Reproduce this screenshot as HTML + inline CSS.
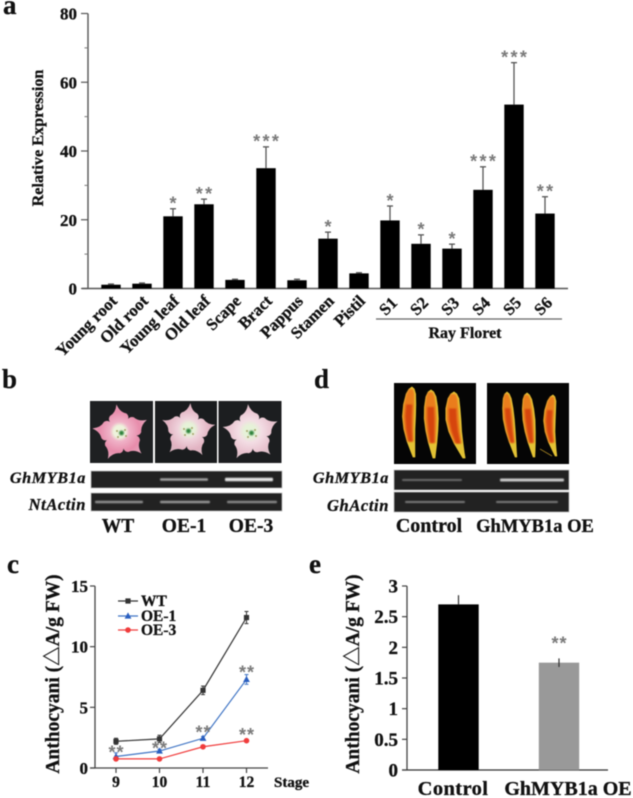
<!DOCTYPE html>
<html lang="en">
<head>
<meta charset="utf-8">
<title>GhMYB1a expression and anthocyanin figure</title>
<style>
html,body{margin:0;padding:0;background:#fff;width:633px;height:798px;overflow:hidden}
svg{display:block;filter:blur(0.55px)}
text{font-family:"Liberation Serif","Noto Serif CJK SC",serif;font-weight:bold;fill:#111;stroke:#111;stroke-width:0.3}
text.star{font-family:"Liberation Sans",sans-serif;fill:#7a7a7a;stroke:none;font-weight:bold}
</style>
</head>
<body>
<svg id="fig" width="633" height="798" viewBox="0 0 633 798" xmlns="http://www.w3.org/2000/svg">
<defs>
<radialGradient id="fPink"><stop offset="0.22" stop-color="#eef3dc"/><stop offset="0.36" stop-color="#f0b3c8"/><stop offset="0.75" stop-color="#e78cab"/><stop offset="1" stop-color="#e4a0b8"/></radialGradient>
<radialGradient id="fPale"><stop offset="0.22" stop-color="#e6f2d8"/><stop offset="0.4" stop-color="#efd3dc"/><stop offset="0.8" stop-color="#e2b3c2"/><stop offset="1" stop-color="#d9b5c0"/></radialGradient>
<radialGradient id="fPaler"><stop offset="0.22" stop-color="#e6f2d8"/><stop offset="0.42" stop-color="#f3dde4"/><stop offset="0.8" stop-color="#e9c4d0"/><stop offset="1" stop-color="#dcc0c8"/></radialGradient>
<filter id="soft" x="-30%" y="-30%" width="160%" height="160%"><feGaussianBlur stdDeviation="0.9"/></filter>
<filter id="softBand" x="-5%" y="-150%" width="110%" height="400%"><feGaussianBlur stdDeviation="0.6"/></filter>
</defs>
<g id="panel-a"></g>
<g id="panel-b"></g>
<g id="panel-d"></g>
<g id="panel-c"></g>
<g id="panel-e"></g>
</svg>
<script>
// Panel a data
const aCategories = ["Young root","Old root","Young leaf","Old leaf","Scape","Bract","Pappus","Stamen","Pistil","S1","S2","S3","S4","S5","S6"];
const aValues = [1.1,1.4,21,24.5,2.5,35,2.4,14.5,4.4,19.8,13,11.6,28.7,53.5,21.8];
const aErrors = [0.2,0.2,2.2,1.5,0.2,6.2,0.3,1.9,0.2,4.2,2.6,1.3,6.7,12.2,4.9];
const aStars = ["","","*","**","","***","","*","","*","*","*","***","***","**"];
const aTicks = [0,20,40,60,80];
const aMinorTicks = [10,30,50,70];
// Panel c data
const cStages = ["9","10","11","12"];
const cWT = [2.2,2.4,6.4,12.4];
const cOE1 = [0.95,1.4,2.45,7.3];
const cOE3 = [0.75,0.75,1.75,2.25];
const cWTErr = [0.25,0.3,0.35,0.5];
const cOE1Err = [0.3,0.15,0.15,0.4];
const cOE3Err = [0.1,0.1,0.1,0.1];
const cStars = ["**","**","**","**"];
const cStarLift = [0.6,0.5,0.77,0.86];
const cTicks = [0,5,10,15];
// Panel e data
const eCategories = ["Control","GhMYB1a OE"];
const eValues = [2.7,1.75];
const eErrors = [0.15,0.07];
const eTicks = ["0","0.5","1","1.5","2","2.5","3"];

const NS = "http://www.w3.org/2000/svg";
function mk(parent, tag, attrs, txt){
  const el = document.createElementNS(NS, tag);
  for (const k in attrs) el.setAttribute(k, attrs[k]);
  if (txt !== undefined) el.textContent = txt;
  parent.appendChild(el);
  return el;
}
function line(p,x1,y1,x2,y2,c,w,name){
  const el = mk(p,"line",{x1,y1,x2,y2,stroke:c,"stroke-width":w});
  
  
  return el;
}
function label(p,x,y,s,size,anchor,name,extra){
  const el = mk(p,"text",Object.assign({x,y,"font-size":size,"text-anchor":anchor},extra||{}),s);
  
  
  return el;
}
function stars(p,x,y,s,size,gap,name){
  if(!s) return;
  const el = mk(p,"text",{x:x+gap/2,y:y+size*0.52,"font-size":size,"text-anchor":"middle","letter-spacing":gap,"class":"star"},s);
  
  
}
function rect(p,x,y,w,h,c,name){
  const el = mk(p,"rect",{x,y,width:w,height:h,fill:c});
  
  
  return el;
}

/* ---------- panel a ---------- */
(function(){
  const g = document.getElementById("panel-a");
  const y0 = 288.5, yTop = 13.5, yMax = 80;
  const yA = v => y0 - v/yMax*(y0-yTop);
  const xA = i => 111 + i*31;
  label(g,3,14,"a",27,"start","panel-label-a");
  line(g,88,yA(80),88,y0,"#555",1.4,"y-axis");
  line(g,82,y0,568,y0,"#555",1.4,"x-axis");
  aTicks.forEach(t=>{
    line(g,81,yA(t),88,yA(t),"#555",1.2,"y-tick");
    label(g,77,yA(t)+6,String(t),17,"end","y-tick-label");
  });
  aMinorTicks.forEach(t=>{ line(g,84.5,yA(t),88,yA(t),"#777",1,"y-minor-tick"); });
  label(g,0,0,"Relative Expression",16.2,"middle","y-axis-title",{transform:"translate(43,138) rotate(-90)"});
  aCategories.forEach((c,i)=>{
    const x = xA(i), v = aValues[i], e = aErrors[i];
    line(g,x,yA(v),x,yA(v+e),"#555",1.3,"error-bar");
    line(g,x-3,yA(v+e),x+3,yA(v+e),"#555",1.3,"error-cap");
    rect(g,x-9.7,yA(v),19.4,y0-yA(v),"#000","bar-"+c.toLowerCase().replace(" ","-"));
    stars(g,x,yA(v+e)-8.5,aStars[i],18,2.4,"significance-stars");
    if(i<9){
      label(g,0,0,c,16.6,"end","category-label",{transform:"translate("+(x+7)+",302) rotate(-45)"});
    }else{
      label(g,0,0,c,16.6,"middle","category-label",{transform:"translate("+(x+2)+",310) rotate(-45)"});
    }
  });
  line(g,376,319,562,319,"#666",1.3,"ray-floret-bracket");
  label(g,465,338,"Ray Floret",16,"middle","ray-floret-label");
})();

/* ---------- shared picture helpers ---------- */
function flower(p,cx,cy,r,rot,fill,name){
  const P=(ang,rad)=>(cx+rad*Math.sin(ang)).toFixed(2)+" "+(cy-rad*Math.cos(ang)).toFixed(2);
  let d="";
  for(let i=0;i<5;i++){
    const a=(rot+i*72)*Math.PI/180, s=72*Math.PI/180;
    if(i===0) d+="M"+P(a,r);
    d+="Q"+P(a+0.1,r*0.72)+" "+P(a+0.42,r*0.7);
    d+="Q"+P(a+0.6,r*0.66)+" "+P(a+s/2,r*0.54);
    d+="Q"+P(a+s-0.6,r*0.66)+" "+P(a+s-0.42,r*0.7);
    d+="Q"+P(a+s-0.1,r*0.72)+" "+P(a+s,r);
  }
  d+="Z";
  const f=mk(p,"path",{d,fill:"url(#"+fill+")"});
  
  
  const c2=mk(p,"circle",{cx:cx+0.5,cy:cy,r:2.4,fill:"#2a8038",filter:"url(#soft)"});
  
  
  [[-4,-2],[4,-3],[-3,4],[5,3]].forEach(o=>{
    const dot=mk(p,"circle",{cx:cx+o[0],cy:cy+o[1],r:1,fill:"#a3a368"});
    
    
  });
}
function gel(p,x,y,w,h,name,bands){
  const bg=rect(p,x,y,w,h,"#222222",name);
  bg.setAttribute("stroke","#bdbdbd");
  bg.setAttribute("stroke-width","0.8");
  bands.forEach(b=>{
    const el=mk(p,"rect",{x:b[0],y:y+h/2-b[2]/2,width:b[1],height:b[2],fill:b[3],rx:1,filter:"url(#softBand)"});
    
    
  });
}
function petal(p,x1,y1,x2,y2,w,bend,name){
  const prof=[[0,0],[0.03,0.38],[0.1,0.72],[0.25,0.94],[0.42,1],[0.6,0.85],[0.78,0.58],[0.92,0.3],[1,0.14]];
  const cxAt=t=>x1+(x2-x1)*t+bend*Math.sin(Math.PI*t);
  const yAt=t=>y1+(y2-y1)*t;
  const shape=(scale,t0,t1,shift)=>{
    const pts=prof.filter(q=>q[0]>=t0&&q[0]<=t1);
    const L=pts.map(q=>(cxAt(q[0])+shift-q[1]*w/2*scale).toFixed(1)+","+yAt(q[0]).toFixed(1));
    const R=pts.slice().reverse().map(q=>(cxAt(q[0])+shift+q[1]*w/2*scale).toFixed(1)+","+yAt(q[0]).toFixed(1));
    return L.concat(R).join(" ");
  };
  const a=mk(p,"polygon",{points:shape(1,0,1,0),fill:"#e3c234","stroke":"#e3c234","stroke-linejoin":"round","stroke-width":0.8});
  
  
  const b=mk(p,"polygon",{points:shape(0.84,0.03,0.84,-0.6),fill:"#ea7d1e",filter:"url(#soft)"});
  
  
  const c=mk(p,"polygon",{points:shape(0.5,0.25,0.84,-0.4),fill:"#d6440e",filter:"url(#soft)"});
  
  
}

/* ---------- panel b ---------- */
(function(){
  const g = document.getElementById("panel-b");
  label(g,2,388,"b",27,"start","panel-label-b");
  rect(g,90,401,63,62,"#1e2022","photo-wt");
  rect(g,155,401,62,62,"#1a1c1e","photo-oe-1");
  rect(g,218.5,401,63,62,"#1c1e20","photo-oe-3");
  flower(g,121,433,29,-9,"fPink","flower-wt");
  flower(g,188,431,28,5,"fPale","flower-oe-1");
  flower(g,251,433,29,-6,"fPaler","flower-oe-3");
  gel(g,91,471,191,17,"gel-ghmyb1a",[[160,48,2.5,"#a3a3a3"],[225,48,3.5,"#e4e4e4"]]);
  gel(g,91,493,191,18,"gel-ntactin",[[95,48,2.5,"#8e8e8e"],[160,50,2.5,"#949494"],[227,50,2.5,"#868686"]]);
  label(g,86,483,"GhMYB1a",16.2,"end","gene-label-ghmyb1a",{"font-style":"italic","letter-spacing":"0.6"});
  label(g,86,510,"NtActin",16.5,"end","gene-label-ntactin",{"font-style":"italic","letter-spacing":"0.6"});
  label(g,118,532,"WT",19.5,"middle","sample-label-wt");
  label(g,184,532,"OE-1",19.5,"middle","sample-label-oe-1");
  label(g,251,532,"OE-3",19.5,"middle","sample-label-oe-3");
})();

/* ---------- panel d ---------- */
(function(){
  const g = document.getElementById("panel-d");
  label(g,314,388,"d",27,"start","panel-label-d");
  rect(g,394,383,82,81,"#050505","photo-control");
  rect(g,487,383,82,81,"#050505","photo-oe");
  petal(g,412,387,414,457,13,-4,"petal-control-1");
  petal(g,431,390,434,458,14,-1,"petal-control-2");
  petal(g,454,392,464,458,15,-5,"petal-control-3");
  petal(g,507,392,516,457,11,-2,"petal-oe-1");
  petal(g,527,393,534,457,12,-1,"petal-oe-2");
  petal(g,553,395,556,456,11.5,-5,"petal-oe-3");
  line(g,540,449,552,456,"#9a7a20",1,"petal-stem");
  gel(g,394,470,175,20,"gel-ghmyb1a",[[402,60,2,"#6a6a6a"],[500,64,3,"#c8c8c8"]]);
  gel(g,394,492,175,20,"gel-ghactin",[[405,60,2,"#7a7a7a"],[496,62,2,"#7a7a7a"]]);
  label(g,389,483,"GhMYB1a",16.2,"end","gene-label-ghmyb1a",{"font-style":"italic","letter-spacing":"0.6"});
  label(g,389,511,"GhActin",16.5,"end","gene-label-ghactin",{"font-style":"italic","letter-spacing":"0.6"});
  label(g,429,532,"Control",20,"middle","sample-label-control");
  label(g,535,532,"GhMYB1a OE",18.5,"middle","sample-label-oe");
})();

/* ---------- panel c ---------- */
(function(){
  const g = document.getElementById("panel-c");
  const y0 = 768, yTop = 586, yMax = 15;
  const yC = v => y0 - v/yMax*(y0-yTop);
  const xC = i => 116 + i*43.5;
  label(g,7,573,"c",27,"start","panel-label-c");
  label(g,309,573,"e",27,"start","panel-label-e");
  line(g,95,yC(15),95,y0,"#444",1.3,"y-axis");
  line(g,90,y0,268,y0,"#444",1.3,"x-axis");
  cTicks.forEach(t=>{
    line(g,90,yC(t),95,yC(t),"#444",1.2,"y-tick");
    label(g,88,yC(t)+6,String(t),17,"end","y-tick-label");
  });
  cStages.forEach((s,i)=>{
    line(g,xC(i),y0,xC(i),y0+5,"#444",1.2,"x-tick");
    label(g,xC(i),787,s,15.5,"middle","x-tick-label");
  });
  label(g,274,787,"Stage",15,"start","x-axis-title");
  label(g,0,0,"Anthocyani (△A/g FW)",19.5,"middle","y-axis-title",{transform:"translate(59,674) rotate(-90)"});
  const series=[
    {n:"wt",v:cWT,e:cWTErr,c:"#333333",k:"square"},
    {n:"oe-1",v:cOE1,e:cOE1Err,c:"#3f74c4",k:"tri"},
    {n:"oe-3",v:cOE3,e:cOE3Err,c:"#f03c3c",k:"circle"}
  ];
  function marker(x,y,s){
    let el;
    if(s.k==="square") el=mk(g,"rect",{x:x-2.6,y:y-2.6,width:5.2,height:5.2,fill:s.c});
    else if(s.k==="tri") el=mk(g,"polygon",{points:(x)+","+(y-3.6)+" "+(x+3.4)+","+(y+2.6)+" "+(x-3.4)+","+(y+2.6),fill:"#2a5fc0"});
    else el=mk(g,"circle",{cx:x,cy:y,r:2.8,fill:s.c});
    
    
  }
  series.forEach(s=>{
    const pl=mk(g,"polyline",{points:s.v.map((v,i)=>xC(i)+","+yC(v)).join(" "),fill:"none",stroke:s.c,"stroke-width":1.2});
    
    
    s.v.forEach((v,i)=>{
      line(g,xC(i),yC(v-s.e[i]),xC(i),yC(v+s.e[i]),s.c,1,"error-bar");
      line(g,xC(i)-2,yC(v+s.e[i]),xC(i)+2,yC(v+s.e[i]),s.c,1,"error-cap");
      line(g,xC(i)-2,yC(v-s.e[i]),xC(i)+2,yC(v-s.e[i]),s.c,1,"error-cap");
      marker(xC(i),yC(v),s);
    });
  });
  cStars.forEach((s,i)=>{
    stars(g,xC(i),yC(cOE1[i]+cStarLift[i]),s,18,1,"significance-stars");
  });
  stars(g,xC(3),yC(cOE3[3])-9,"**",18,1,"significance-stars-oe-3");
  const legY=[601,616,630];
  const legNames=["WT","OE-1","OE-3"];
  series.forEach((s,i)=>{
    line(g,118,legY[i],138,legY[i],s.c,1.2,"legend-line-"+s.n);
    marker(128,legY[i],s);
    label(g,141,legY[i]+5,legNames[i],15.5,"start","legend-entry-"+s.n);
  });
})();

/* ---------- panel e ---------- */
(function(){
  const g = document.getElementById("panel-e");
  const y0 = 770, yTop = 586, yMax = 3;
  const yE = v => y0 - v/yMax*(y0-yTop);
  const xE = i => 458.5 + i*100.5;
  const colors=["#000","#999"];
  line(g,407,yE(3),407,y0,"#444",1.3,"y-axis");
  line(g,402,y0,608,y0,"#333",1.3,"x-axis");
  eTicks.forEach(t=>{
    const v=Number(t);
    line(g,402,yE(v),407,yE(v),"#444",1.2,"y-tick");
    label(g,398,yE(v)+6.5,t,19,"end","y-tick-label");
  });
  eCategories.forEach((c,i)=>{
    const x=xE(i), v=eValues[i], e=eErrors[i];
    rect(g,x-20.2,yE(v),40.4,y0-yE(v),colors[i],"bar-"+c.toLowerCase().replace(" ","-"));
    line(g,x,yE(v+e),x,yE(v-(i?e:0)),"#333",1.2,"error-bar");
  });
  stars(g,xE(1),640,"**",18,1,"significance-stars");
  label(g,453,795,eCategories[0],20.5,"middle","x-tick-label",{"letter-spacing":"0.4"});
  label(g,568,795,eCategories[1],20,"middle","x-tick-label");
  label(g,0,0,"Anthocyani (△A/g FW)",19.5,"middle","y-axis-title",{transform:"translate(359,674) rotate(-90)"});
})();
</script>
</body>
</html>
